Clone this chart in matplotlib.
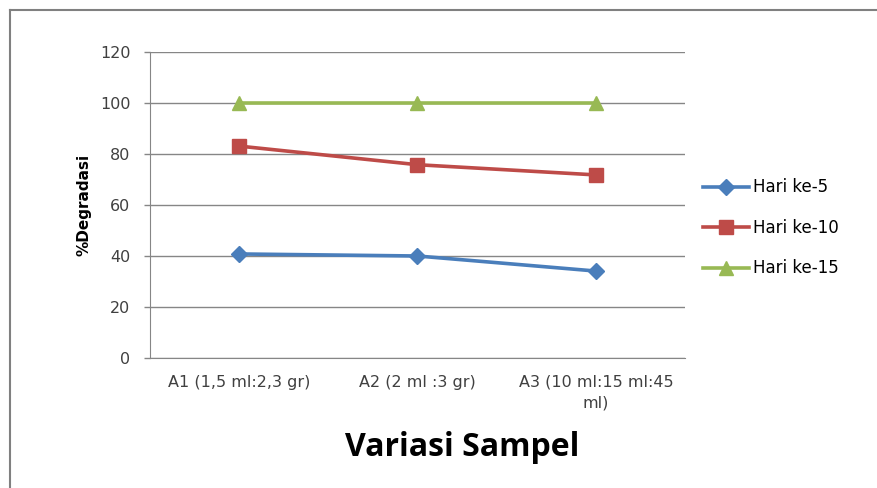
import matplotlib.pyplot as plt
from matplotlib.lines import Line2D

plt.rcParams['font.family'] = ['DejaVu Sans']

# data
categories = ['A1 (1,5 ml:2,3 gr)', 'A2 (2 ml :3 gr)', 'A3 (10 ml:15 ml:45\nml)']
hari_5 = [40.8, 40.0, 34.1]
hari_10 = [83.1, 75.8, 71.8]
hari_15 = [100, 100, 100]
yticks = [0, 20, 40, 60, 80, 100, 120]

fig = plt.figure(figsize=(8.78, 4.88), dpi=100)
ax = fig.add_axes([150 / 878, 1 - 358 / 488, 535 / 878, 306 / 488])

x = range(len(categories))
ax.plot(x, hari_5, color='#4A7EBB', lw=2.6, marker='D', ms=8, label='Hari ke-5')
ax.plot(x, hari_10, color='#BE4B48', lw=2.6, marker='s', ms=10, label='Hari ke-10')
ax.plot(x, hari_15, color='#98B954', lw=2.6, marker='^', ms=10, label='Hari ke-15')

ax.set_xlim(-0.5, 2.5)
ax.set_ylim(0, 120)
ax.set_yticks(yticks)
ax.set_xticks(list(x))
ax.set_xticklabels(categories, fontsize=11.5, color='#404040', linespacing=1.5)
ax.tick_params(axis='y', labelsize=11.5, labelcolor='#404040', color='#868686',
               length=4, width=1, pad=10)
ax.tick_params(axis='x', length=0, pad=12)
ax.grid(axis='y', color='#868686', lw=1)
ax.set_axisbelow(True)
for s in ['top', 'right']:
    ax.spines[s].set_visible(False)
for s in ['left', 'bottom']:
    ax.spines[s].set_color('#868686')

ax.set_ylabel('%Degradasi', fontsize=11, fontweight='bold', labelpad=6)
fig.text(462 / 878, 1 - 448 / 488, 'Variasi Sampel', fontsize=23, fontweight='bold',
         family='Open Sans', ha='center', va='center')

ax.legend(loc='center left', bbox_to_anchor=(1.005, 0.425), frameon=False,
          fontsize=12, handlelength=2.8, handletextpad=0.2, labelspacing=1.35)

# outer chart border (left and top)
fig.add_artist(Line2D([10 / 878, 10 / 878], [0, 1 - 10 / 488], color='#808080', lw=1.5))
fig.add_artist(Line2D([10 / 878, 1], [1 - 10 / 488, 1 - 10 / 488], color='#808080', lw=1.5))

fig.savefig('out.png', dpi=100)
